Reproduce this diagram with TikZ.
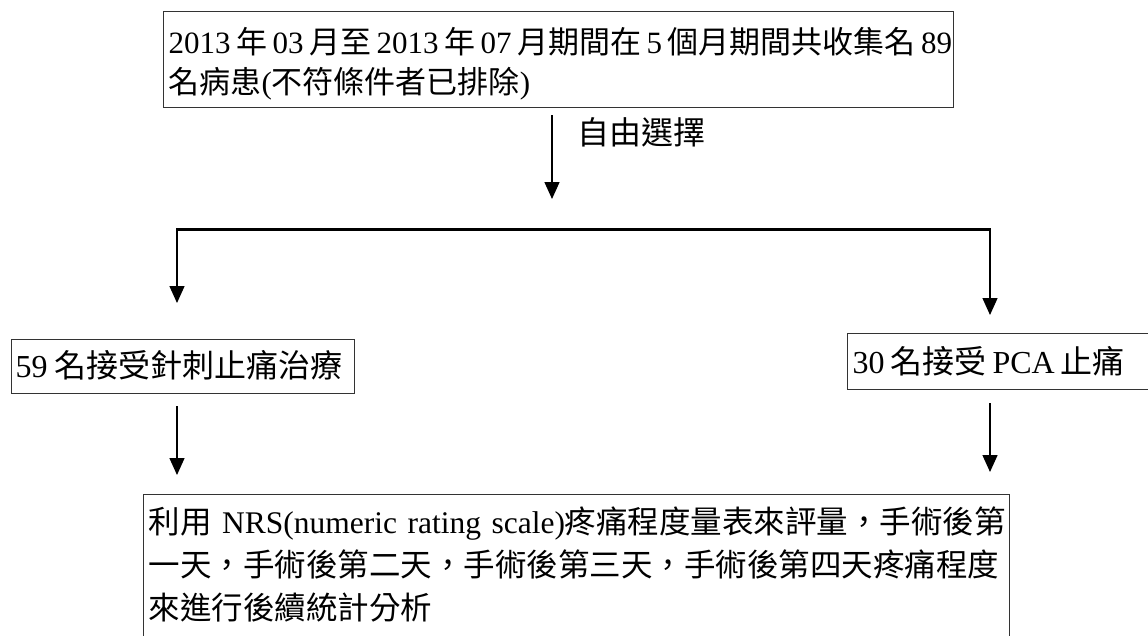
\documentclass[tikz,border=0pt]{standalone}
\usepackage{fontspec}
\setmainfont{Noto Sans CJK TC}
\newfontfamily\latfont{Liberation Serif}
\newcommand\mylat[1]{{\latfont #1}}
\newcommand\gp{\hspace{5.5pt}}
\newcommand\gq{\hspace{6pt}}
\usetikzlibrary{arrows.meta}
\begin{document}
\begin{tikzpicture}[x=1pt,y=-1pt,
  box/.style={draw=black!80, line width=1.2pt, anchor=north west, align=left, inner xsep=5pt},
  arr/.style={line width=1.4pt, -{Triangle[length=17pt,width=15pt]}},
]
\useasboundingbox (0,0) rectangle (1148,635);
\fill[white] (0,0) rectangle (1148,635);

\node[box, text width=780pt, inner ysep=10.4pt, text height=31.5pt, text depth=43.7pt,
  font=\fontsize{31}{40}\selectfont] (top) at (163,11)
  {\mbox{\mylat{2013}\gp 年\gp\mylat{03}\gp 月至\gp\mylat{2013}\gp 年\gp\mylat{07}\gp 月期間在\gp\mylat{5}\gp 個月期間共收集名\gp\mylat{89}}\\
   \mbox{名病患\mylat{(}不符條件者已排除\mylat{)}}};

\node[font=\fontsize{32}{36}\selectfont, anchor=west, inner sep=0pt] (lbl) at (577,132) {自由選擇};

\node[box, text width=335pt, inner xsep=4pt, inner ysep=10.2pt, text height=28pt, text depth=5.6pt,
  font=\fontsize{32}{36}\selectfont] (left) at (11,339)
  {\mbox{\mylat{59}\hspace{7pt}名接受針刺止痛治療}};

\node[box, text width=310pt, inner ysep=11.8pt, text height=28pt, text depth=4.4pt,
  font=\fontsize{32}{36}\selectfont] (right) at (847,333)
  {\mbox{\mylat{30}\gq 名接受\gq\mylat{PCA}\gq 止痛}};

\node[box, text width=856pt, inner ysep=9pt, text height=30pt, text depth=170pt,
  font=\fontsize{31.5}{43}\selectfont] (bottom) at (143,494)
  {\mbox{利用\mylat{ NRS(numeric rating scale)}疼痛程度量表來評量，手術後第}\\
   \mbox{一天，手術後第二天，手術後第三天，手術後第四天疼痛程度}\\
   \mbox{來進行後續統計分析}};

\coordinate (a1e) at (552,199);
\coordinate (sL) at (177,229);
\coordinate (sR) at (990,229);

\draw[arr, shorten <=7pt] (top.south -| a1e) -- (a1e);
\draw[line width=3pt] ([xshift=-0.7pt]sL) -- ([xshift=0.7pt]sR);
\draw[arr, shorten >=36pt] (sL) -- (sL |- left.north);
\draw[arr, shorten >=18pt] (sR) -- (sR |- right.north);
\draw[arr, shorten <=12pt, shorten >=19pt] (left.south -| sL) -- (bottom.north -| sL);
\draw[arr, shorten <=13pt, shorten >=22pt] (right.south -| sR) -- (bottom.north -| sR);
\end{tikzpicture}
\end{document}
